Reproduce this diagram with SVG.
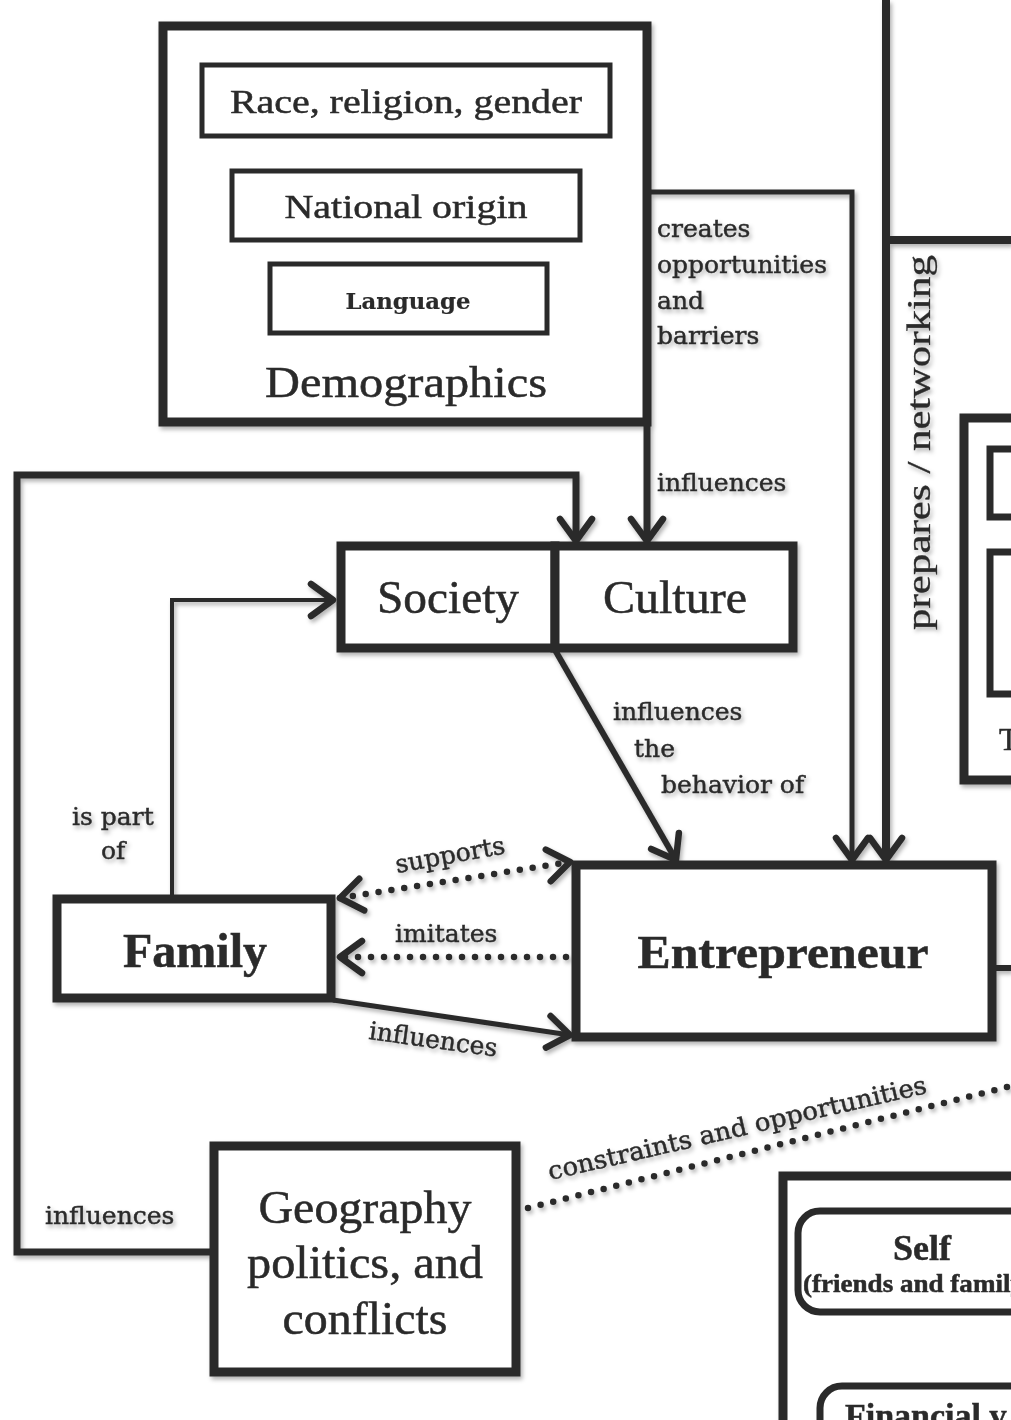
<svg xmlns="http://www.w3.org/2000/svg" width="1011" height="1420" viewBox="0 0 1011 1420">
<defs>
<style>
.box{fill:#fff;stroke:#2b2b2b;stroke-width:9}
.ibox{fill:#fff;stroke:#2b2b2b;stroke-width:5}
.rbox{fill:#fff;stroke:#2b2b2b;stroke-width:7}
.ln{fill:none;stroke:#2b2b2b}
.dot{fill:none;stroke:#2b2b2b;stroke-width:6.5;stroke-linecap:round;stroke-dasharray:0 13}
.lbl{font-family:"DejaVu Serif",serif;font-size:25px;fill:#2b2b2b;stroke:#2b2b2b;stroke-width:0.45}
.big{font-family:"Liberation Serif",serif;fill:#2b2b2b;text-anchor:middle;stroke:#2b2b2b;stroke-width:0.5}
.bold{font-weight:bold}
</style>
<filter id="sh" x="-5%" y="-5%" width="110%" height="110%">
<feDropShadow dx="2" dy="3" stdDeviation="2" flood-color="#000" flood-opacity="0.3"/>
</filter>
<marker id="arr" markerUnits="userSpaceOnUse" viewBox="-5 -5 34 42" refX="22" refY="16" markerWidth="34" markerHeight="42" orient="auto-start-reverse">
<path d="M0,0 L22,16 L0,32" fill="none" stroke="#2b2b2b" stroke-width="6.5" stroke-linecap="round" stroke-linejoin="round" stroke-dasharray="none"/>
</marker>
</defs>
<rect width="1011" height="1420" fill="#fff"/>
<g filter="url(#sh)">
<g id="connectors">
<path class="ln" stroke-width="5" d="M650,192 H852 V860" marker-end="url(#arr)"/>
<path class="ln" stroke-width="8" d="M886,0 V860" marker-end="url(#arr)"/>
<path class="ln" stroke-width="8" d="M886,240 H1011"/>
<path class="ln" stroke-width="7" d="M647,422 V541" marker-end="url(#arr)"/>
<path class="ln" stroke-width="7" d="M214,1252 H17 V475 H576 V541" marker-end="url(#arr)"/>
<path class="ln" stroke-width="4" d="M172,899 V600 H333" marker-end="url(#arr)"/>
<path class="ln" stroke-width="6" d="M555,650 L676,860" marker-end="url(#arr)"/>
<path class="dot" d="M340,898 L570,862" marker-start="url(#arr)" marker-end="url(#arr)"/>
<path class="dot" d="M566,957 L340,957" marker-end="url(#arr)"/>
<path class="ln" stroke-width="5" d="M333,1000 L570,1035" marker-end="url(#arr)"/>
<path class="dot" d="M528,1208 L1011,1086"/>
<path class="ln" stroke-width="6" d="M992,968 H1011"/>
<text class="lbl" x="657" y="237">creates</text>
<text class="lbl" x="657" y="273">opportunities</text>
<text class="lbl" x="657" y="309">and</text>
<text class="lbl" x="657" y="344">barriers</text>
<text class="lbl" x="657" y="491">influences</text>
<text class="lbl" x="613" y="720">influences</text>
<text class="lbl" x="634" y="757">the</text>
<text class="lbl" x="661" y="793">behavior of</text>
<text class="lbl" x="72" y="825">is part</text>
<text class="lbl" x="101" y="859">of</text>
<text class="lbl" transform="translate(397,873) rotate(-10.3)">supports</text>
<text class="lbl" x="395" y="942">imitates</text>
<text class="lbl" transform="translate(368,1039) rotate(7.8)">influences</text>
<text class="lbl" x="45" y="1224">influences</text>
<text class="lbl" transform="translate(550,1180) rotate(-13)" textLength="388" lengthAdjust="spacingAndGlyphs">constraints and opportunities</text>
<text class="lbl" transform="translate(930,630) rotate(-90)" style="font-family:'Liberation Serif',serif;font-size:33px;stroke-width:0.3" textLength="375" lengthAdjust="spacingAndGlyphs">prepares / networking</text>
</g>
<g id="demographics">
<rect class="box" x="163" y="26" width="484" height="396"/>
<text class="big" x="406" y="397" font-size="44" textLength="282" lengthAdjust="spacingAndGlyphs">Demographics</text>
</g>
<g id="race">
<rect class="ibox" x="202" y="65" width="408" height="71"/>
<text class="big" x="406" y="113" font-size="34" textLength="352" lengthAdjust="spacingAndGlyphs">Race, religion, gender</text>
</g>
<g id="national">
<rect class="ibox" x="232" y="171" width="348" height="69"/>
<text class="big" x="406" y="218" font-size="34" textLength="243" lengthAdjust="spacingAndGlyphs">National origin</text>
</g>
<g id="language">
<rect class="ibox" x="270" y="264" width="277" height="69"/>
<text class="big bold" x="408" y="309" style="font-family:'DejaVu Serif',serif;stroke-width:0.2" font-size="22" textLength="125" lengthAdjust="spacingAndGlyphs">Language</text>
</g>
<g id="society">
<rect class="box" x="341" y="546" width="214" height="102"/>
<text class="big" x="448" y="613" font-size="46" textLength="142" lengthAdjust="spacingAndGlyphs">Society</text>
</g>
<g id="culture">
<rect class="box" x="555" y="546" width="238" height="102"/>
<text class="big" x="675" y="613" font-size="46" textLength="144" lengthAdjust="spacingAndGlyphs">Culture</text>
</g>
<g id="family">
<rect class="box" x="57" y="899" width="274" height="99"/>
<text class="big bold" x="195" y="967" font-size="48" textLength="144" lengthAdjust="spacingAndGlyphs">Family</text>
</g>
<g id="entrepreneur">
<rect class="box" x="576" y="865" width="416" height="172"/>
<text class="big bold" x="783" y="968" font-size="46" textLength="291" lengthAdjust="spacingAndGlyphs">Entrepreneur</text>
</g>
<g id="geography">
<rect class="box" x="214" y="1146" width="302" height="226"/>
<text class="big" x="365" y="1223" font-size="46" textLength="213" lengthAdjust="spacingAndGlyphs">Geography</text>
<text class="big" x="365" y="1278" font-size="46" textLength="236" lengthAdjust="spacingAndGlyphs">politics, and</text>
<text class="big" x="365" y="1334" font-size="46" textLength="165" lengthAdjust="spacingAndGlyphs">conflicts</text>
</g>
<g id="tbox">
<rect class="box" stroke-width="8" x="964" y="418" width="100" height="362"/>
<rect class="rbox" x="990" y="449" width="80" height="68"/>
<rect class="rbox" x="990" y="552" width="80" height="142"/>
<text class="big" x="999" y="750" font-size="32" style="text-anchor:start">T</text>
</g>
<g id="resources">
<rect class="box" x="783" y="1176" width="300" height="300"/>
</g>
<g id="self">
<rect class="rbox" x="798" y="1211" width="260" height="101" rx="22"/>
<text class="big bold" x="922" y="1260" font-size="36">Self</text>
<text class="big bold" x="803" y="1292" font-size="26" style="text-anchor:start" textLength="230" lengthAdjust="spacingAndGlyphs">(friends and family)</text>
</g>
<g id="financial">
<rect class="rbox" x="820" y="1386" width="260" height="80" rx="22"/>
<text class="big bold" x="845" y="1427" font-size="34" style="text-anchor:start">Financial v</text>
</g>
</g>
</svg>
